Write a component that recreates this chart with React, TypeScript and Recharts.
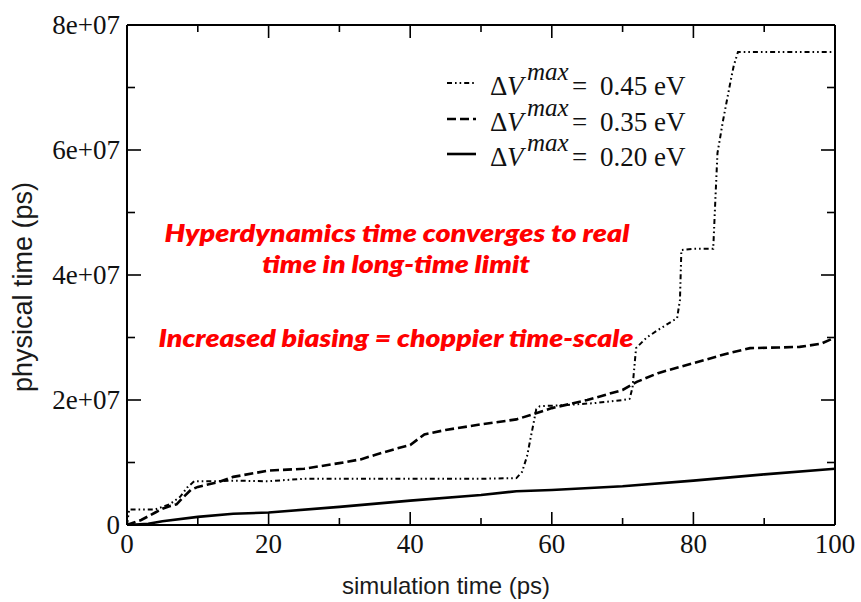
import React from 'react';
import { LineChart, Line, XAxis, YAxis } from 'recharts';

const SCALE = 1e7;

// ΔV^max = 0.45 eV (dash-dot-dot)
const X_045 = [0, 0.3, 4, 6, 7.5, 8.5, 9.5, 12, 15, 20, 25, 30, 40, 50, 55, 55.8, 56.5, 57.2, 57.8, 58.3, 62, 66, 70, 71, 71.4, 71.9, 73.4, 75, 77.7, 78.1, 78.3, 80, 82.8, 83.1, 83.4, 84.2, 85.2, 85.7, 86.3, 90, 95, 100];
const Y_045 = [0, 0.25, 0.25, 0.33, 0.45, 0.6, 0.7, 0.7, 0.71, 0.7, 0.74, 0.74, 0.74, 0.74, 0.75, 0.85, 1.1, 1.5, 1.85, 1.9, 1.92, 1.95, 2.0, 2.02, 2.2, 2.83, 3.0, 3.12, 3.31, 3.6, 4.4, 4.42, 4.42, 5.2, 5.95, 6.48, 7.07, 7.35, 7.57, 7.57, 7.57, 7.57];

// ΔV^max = 0.35 eV (dashed)
const X_035 = [0, 2, 4, 5, 6, 7, 8, 9, 10, 13, 15, 18, 20, 25, 30, 33, 35, 38, 40, 42, 45, 50, 55, 57, 60, 65, 70, 72, 75, 80, 85, 88, 92, 95, 98, 100];
const Y_035 = [0, 0.08, 0.2, 0.26, 0.3, 0.33, 0.45, 0.56, 0.61, 0.69, 0.77, 0.83, 0.87, 0.9, 0.99, 1.05, 1.12, 1.22, 1.28, 1.45, 1.52, 1.61, 1.69, 1.76, 1.87, 2.0, 2.16, 2.29, 2.43, 2.59, 2.75, 2.83, 2.84, 2.85, 2.9, 3.0];

// ΔV^max = 0.20 eV (solid)
const X_020 = [0, 3, 5, 10, 15, 20, 30, 40, 50, 55, 60, 70, 80, 90, 100];
const Y_020 = [0, 0.02, 0.06, 0.13, 0.18, 0.2, 0.29, 0.39, 0.48, 0.54, 0.56, 0.62, 0.71, 0.81, 0.9];

const X_TICKS = [0, 10, 20, 30, 40, 50, 60, 70, 80, 90, 100];
const X_MAJOR = [0, 20, 40, 60, 80, 100];
const X_LABELS = ['0', '20', '40', '60', '80', '100'];
const Y_TICKS = [0, 1, 2, 3, 4, 5, 6, 7, 8].map((v) => v * SCALE);
const Y_MAJOR = [0, 2, 4, 6, 8].map((v) => v * SCALE);
const Y_LABELS = ['0', '2e+07', '4e+07', '6e+07', '8e+07'];

const LEGEND_VALUES = ['0.45 eV', '0.35 eV', '0.20 eV'];
const NOTE_LINES = [
  'Hyperdynamics time converges to real',
  'time in long-time limit',
  'Increased biasing = choppier time-scale',
];

const toData = (xs: number[], ys: number[]) => xs.map((x, i) => ({ x, y: ys[i] * SCALE }));

const SERIES = [
  { key: 's045', data: toData(X_045, Y_045), dash: '5 3 1.6 3 1.6 3', width: 2 },
  { key: 's035', data: toData(X_035, Y_035), dash: '9 4', width: 2.6 },
  { key: 's020', data: toData(X_020, Y_020), dash: undefined as string | undefined, width: 2.6 },
];

const SERIF = "'Liberation Serif', 'Times New Roman', 'DejaVu Serif', serif";
const SANS = "'Liberation Sans', Arial, Helvetica, sans-serif";

const BottomTick = (props: any) => {
  const { x, y, payload } = props;
  const v = payload.value;
  const idx = X_MAJOR.indexOf(v);
  const major = idx >= 0;
  return (
    <g>
      <line x1={x} x2={x} y1={y} y2={y - (major ? 13 : 7)} stroke="#000" strokeWidth={1.6} />
      {major && (
        <text x={x} y={y + 28} textAnchor="middle" fontFamily={SERIF} fontSize={27} fill="#111">
          {X_LABELS[idx]}
        </text>
      )}
    </g>
  );
};

const TopTick = (props: any) => {
  const { x, y, payload } = props;
  const major = X_MAJOR.indexOf(payload.value) >= 0;
  return <line x1={x} x2={x} y1={y} y2={y + (major ? 13 : 7)} stroke="#000" strokeWidth={1.6} />;
};

const LeftTick = (props: any) => {
  const { x, y, payload } = props;
  const v = payload.value;
  const idx = Y_MAJOR.indexOf(v);
  const major = idx >= 0;
  return (
    <g>
      <line x1={x} x2={x + (major ? 14 : 8)} y1={y} y2={y} stroke="#000" strokeWidth={1.6} />
      {major && (
        <text x={x - 7} y={y + 9} textAnchor="end" fontFamily={SERIF} fontSize={27} fill="#111">
          {Y_LABELS[idx]}
        </text>
      )}
    </g>
  );
};

const RightTick = (props: any) => {
  const { x, y, payload } = props;
  const major = Y_MAJOR.indexOf(payload.value) >= 0;
  return <line x1={x} x2={x - (major ? 14 : 8)} y1={y} y2={y} stroke="#000" strokeWidth={1.6} />;
};

const LEGEND_BASE = [95, 131, 166];

const AXIS_LINE = { stroke: '#000', strokeWidth: 2 };

export default function App() {
  return (
    <div style={{ position: 'absolute', left: 0, top: 0, width: 861, height: 602, background: '#fff' }}>
      <LineChart width={861} height={602} margin={{ top: 24, right: 25, bottom: 76, left: 126 }}>
        <XAxis
          xAxisId="bottom"
          orientation="bottom"
          dataKey="x"
          type="number"
          domain={[0, 100]}
          ticks={X_TICKS}
          interval={0}
          allowDataOverflow
          height={1}
          tickSize={0}
          tickMargin={0}
          tickLine={false}
          axisLine={AXIS_LINE}
          tick={BottomTick}
        />
        <XAxis
          xAxisId="top"
          orientation="top"
          dataKey="x"
          type="number"
          domain={[0, 100]}
          ticks={X_TICKS}
          interval={0}
          allowDataOverflow
          height={1}
          tickSize={0}
          tickMargin={0}
          tickLine={false}
          axisLine={AXIS_LINE}
          tick={TopTick}
        />
        <YAxis
          yAxisId="left"
          orientation="left"
          type="number"
          domain={[0, 8 * SCALE]}
          ticks={Y_TICKS}
          interval={0}
          allowDataOverflow
          width={1}
          tickSize={0}
          tickMargin={0}
          tickLine={false}
          axisLine={AXIS_LINE}
          tick={LeftTick}
        />
        <YAxis
          yAxisId="right"
          orientation="right"
          type="number"
          domain={[0, 8 * SCALE]}
          ticks={Y_TICKS}
          interval={0}
          allowDataOverflow
          width={1}
          tickSize={0}
          tickMargin={0}
          tickLine={false}
          axisLine={AXIS_LINE}
          tick={RightTick}
        />
        {SERIES.map((s) => (
          <Line
            key={s.key}
            xAxisId="bottom"
            yAxisId="left"
            data={s.data}
            dataKey="y"
            type="linear"
            stroke="#000"
            strokeWidth={s.width}
            strokeDasharray={s.dash}
            dot={false}
            activeDot={false}
            isAnimationActive={false}
          />
        ))}
      </LineChart>
      <svg
        width={861}
        height={602}
        style={{ position: 'absolute', left: 0, top: 0, pointerEvents: 'none' }}
      >
        {SERIES.map((s, i) => (
          <g key={s.key}>
            <line
              x1={447}
              x2={476}
              y1={LEGEND_BASE[i] - 12}
              y2={LEGEND_BASE[i] - 12}
              stroke="#000"
              strokeWidth={s.width}
              strokeDasharray={s.dash}
            />
            <text y={LEGEND_BASE[i]} fontFamily={SERIF} fontSize={27} fill="#111">
              <tspan x={490}>Δ</tspan>
              <tspan x={507} fontStyle="italic">V</tspan>
              <tspan x={527} fontStyle="italic" fontSize={25} dy={-15}>max</tspan>
              <tspan x={572} dy={15}>=</tspan>
              <tspan x={600}>{LEGEND_VALUES[i]}</tspan>
            </text>
          </g>
        ))}
        <g fontFamily="Lato, 'Open Sans', sans-serif" fontWeight={800} fontStyle="italic" fontSize={25} fill="#ff0000">
          <text x={397} y={242} textAnchor="middle" textLength={465} lengthAdjust="spacingAndGlyphs">
            {NOTE_LINES[0]}
          </text>
          <text x={396} y={273} textAnchor="middle" textLength={268} lengthAdjust="spacingAndGlyphs">
            {NOTE_LINES[1]}
          </text>
          <text x={396} y={347} textAnchor="middle" textLength={475} lengthAdjust="spacingAndGlyphs">
            {NOTE_LINES[2]}
          </text>
        </g>
        <text x={446} y={594} textAnchor="middle" fontFamily={SANS} fontSize={24} fill="#1a1a1a">
          simulation time (ps)
        </text>
        <text
          x={0}
          y={0}
          transform="translate(32, 287) rotate(-90)"
          textAnchor="middle"
          fontFamily={SANS}
          fontSize={27}
          fill="#1a1a1a"
        >
          physical time (ps)
        </text>
      </svg>
    </div>
  );
}
